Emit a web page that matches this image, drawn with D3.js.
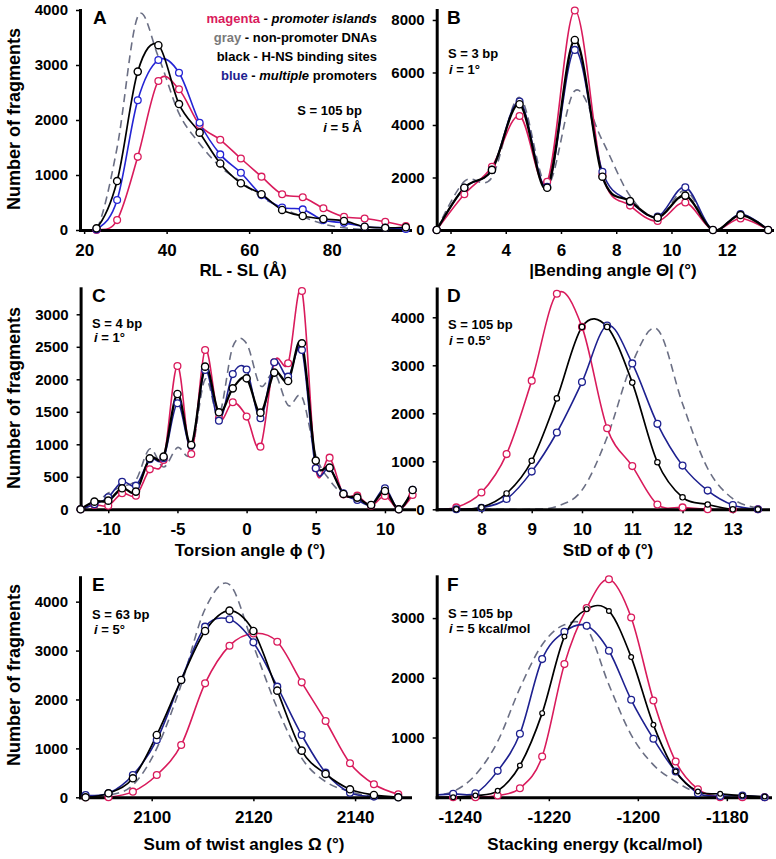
<!DOCTYPE html>
<html>
<head>
<meta charset="utf-8">
<script src="https://cdn.jsdelivr.net/npm/d3@7"></script>
<style>
  body { margin: 0; background: #fff; }
  svg { display: block; }
  text { font-family: Arial, "Liberation Sans", sans-serif; font-weight: bold; fill: #000; }
</style>
</head>
<body>
<svg id="fig" width="776" height="859"></svg>
<script>
// ---- data ----
// A : RL - SL
var aX = [18, 23, 28, 33, 38, 43, 48, 53, 58, 63, 68, 73, 78, 83, 88, 93, 98];
var aMagenta = [0, 0, 180, 1330, 2710, 2560, 1910, 1640, 1300, 970, 650, 595, 395, 240, 210, 150, 70];
var aGray    = [0, 0, 1500, 3880, 3150, 2120, 1570, 1150, 880, 600, 400, 240, 110, 40, 10, 0, 0];
var aBlack   = [0, 30, 890, 2880, 3360, 2290, 1770, 1210, 850, 650, 365, 255, 200, 165, 60, 40, 50];
var aBlue    = [0, 10, 545, 2360, 3090, 2860, 1950, 1375, 1040, 635, 410, 375, 180, 130, 60, 40, 20];
var aXTicks = [20, 40, 60, 80];
var aYTicks = [0, 1000, 2000, 3000, 4000];

// B : bending angle
var bX = [1.5, 2.5, 3.5, 4.5, 5.5, 6.5, 7.5, 8.5, 9.5, 10.5, 11.5, 12.5, 13.5];
var bMagenta = [0, 1360, 2410, 4340, 1840, 8360, 2100, 930, 340, 1050, 0, 440, 0];
var bGray    = [0, 1850, 2000, 5050, 1700, 5300, 3400, 1300, 450, 1500, 0, 600, 0];
var bBlack   = [0, 1610, 2290, 4790, 1610, 7240, 2030, 1100, 470, 1310, 0, 570, 0];
var bBlue    = [0, 1610, 2290, 4890, 1650, 6860, 2220, 1080, 510, 1630, 0, 610, 0];
var bXTicks = [2, 4, 6, 8, 10, 12];
var bYTicks = [0, 2000, 4000, 6000, 8000];

// C : torsion angle
var cX = [-12, -11, -10, -9, -8, -7, -6, -5, -4, -3, -2, -1, 0, 1, 2, 3, 4, 5, 6, 7, 8, 9, 10, 11, 12];
var cMagenta = [0, 67, 56, 246, 210, 615, 760, 2205, 851, 2451, 1400, 1646, 1426, 964, 2262, 2246, 3359, 631, 795, 230, 210, 56, 205, 0, 220];
var cGray    = [0, 80, 250, 350, 450, 930, 650, 950, 870, 2000, 1450, 2500, 2550, 1900, 2100, 1600, 1730, 830, 450, 230, 150, 80, 250, 0, 250];
var cBlack   = [0, 118, 133, 323, 272, 785, 810, 1774, 990, 2195, 1492, 1861, 2015, 1487, 2103, 1974, 2554, 749, 641, 236, 180, 67, 282, 0, 297];
var cBlue    = [0, 77, 185, 425, 364, 769, 785, 1631, 980, 2144, 1364, 2080, 2150, 1400, 2262, 2041, 2451, 631, 631, 246, 143, 67, 323, 0, 300];
var cXTicks = [-10, -5, 0, 5, 10];
var cYTicks = [0, 500, 1000, 1500, 2000, 2500, 3000];

// D : StD of torsion
var dX = [7, 7.5, 8, 8.5, 9, 9.5, 10, 10.5, 11, 11.5, 12, 12.5, 13, 13.5];
var dMagenta = [0, 40, 350, 1150, 2680, 4490, 3800, 1690, 900, 100, 40, 0, 0, 0];
var dGray    = [0, 0, 0, 0, 0, 60, 400, 1500, 3050, 3750, 2200, 850, 220, 20];
var dBlack   = [0, 0, 40, 330, 1010, 2310, 3800, 3800, 2640, 980, 250, 100, 0, 0];
var dBlue    = [0, 0, 30, 215, 785, 1600, 2650, 3830, 3040, 1780, 910, 390, 90, 0];
var dXTicks = [8, 9, 10, 11, 12, 13];
var dYTicks = [0, 1000, 2000, 3000, 4000];

// E : sum of twist angles
var eX = [2087, 2091.5, 2096.3, 2101, 2105.8, 2110.5, 2115.3, 2120, 2124.7, 2129.5, 2134.2, 2139, 2143.7, 2148.5];
var eMagenta = [0, 0, 116, 456, 1070, 2330, 3100, 3350, 3180, 2350, 1560, 695, 266, 60];
var eGray    = [0, 40, 250, 1000, 2300, 3850, 4350, 3100, 1820, 800, 320, 116, 14, 0];
var eBlack   = [0, 82, 388, 1274, 2399, 3400, 3816, 3400, 2180, 954, 477, 164, 48, 0];
var eBlue    = [48, 82, 456, 1172, 2399, 3489, 3639, 3168, 2262, 1274, 504, 95, 14, 0];
var eXTicks = [2100, 2120, 2140];
var eYTicks = [0, 1000, 2000, 3000, 4000];

// F : stacking energy
var fX = [-1246.5, -1241.5, -1236.5, -1231.5, -1226.5, -1221.5, -1216.5, -1211.5, -1206.5, -1201.5, -1196.5, -1191.5, -1186.5, -1181.5, -1176.5, -1171.5];
var fMagenta = [0, 0, 0, 28, 151, 682, 2229, 3168, 3650, 3011, 1620, 598, 134, 0, 0, 0];
var fGray    = [20, 95, 374, 933, 1827, 2553, 2888, 2832, 1883, 1045, 542, 263, 67, 0, 0, 0];
var fBlack   = [0, 0, 28, 106, 531, 1408, 2690, 3150, 3120, 2347, 1212, 430, 95, 56, 28, 11];
var fBlue    = [30, 56, 67, 441, 1062, 2313, 2770, 2872, 2453, 1631, 978, 430, 67, 20, 28, 0];
var fXTicks = [-1240, -1220, -1200, -1180];
var fYTicks = [1000, 2000, 3000];

var magenta = "#d91b5c", gray = "#6b6f84", black = "#000";
var blueA = "#2424d4", blueDark = "#1e2190";

var svg = d3.select("#fig");
var plain = function(d) { return String(d); };   // 4000, -1240 : no commas, plain hyphen

function drawPanel(p) {
  var x = d3.scaleLinear().domain(p.xDomain).range(p.xRange);
  var y = d3.scaleLinear().domain(p.yDomain).range(p.yRange);
  var g = svg.append("g");

  var clipId = "clip" + p.letter;
  g.append("clipPath").attr("id", clipId).append("rect")
    .attr("x", p.xRange[0]).attr("y", p.yRange[1] - 20)
    .attr("width", p.xRange[1] - p.xRange[0])
    .attr("height", p.yRange[0] - p.yRange[1] + 20);

  var line = d3.line()
    .x(function(d) { return x(d[0]); })
    .y(function(d) { return y(d[1]); })
    .curve(d3.curveCardinal.tension(0));

  var plot = g.append("g").attr("clip-path", "url(#" + clipId + ")");
  p.series.forEach(function(s) {
    var pts = p.xs.map(function(v, i) { return [v, s.values[i]]; });
    plot.append("path").datum(pts)
      .attr("d", line)
      .attr("fill", "none")
      .attr("stroke", s.color)
      .attr("stroke-width", s.width)
      .attr("stroke-dasharray", s.dash || null);
  });

  // axes
  var xa = g.append("g").attr("transform", "translate(0," + p.yRange[0] + ")")
    .call(d3.axisBottom(x).tickValues(p.xTicks).tickFormat(plain).tickSize(4).tickSizeOuter(0).tickPadding(10));
  var ya = g.append("g").attr("transform", "translate(" + p.xRange[0] + ",0)")
    .call(d3.axisLeft(y).tickValues(p.yTicks).tickFormat(plain).tickSize(4).tickSizeOuter(0).tickPadding(8));
  [xa, ya].forEach(function(a) {
    a.select(".domain").attr("stroke", "#000").attr("stroke-width", 3).attr("stroke-linecap", "square");
    a.selectAll(".tick line").attr("stroke", "#000").attr("stroke-width", 1.5);
    a.selectAll("text").attr("fill", "#000").style("font-family", "Arial, 'Liberation Sans', sans-serif").style("font-weight", "bold");
  });
  xa.selectAll("text").style("font-size", "17px");
  ya.selectAll("text").style("font-size", "15px");

  // markers on top of the axes
  var x0 = p.xDomain[0], x1 = p.xDomain[1];
  p.series.forEach(function(s) {
    if (!s.r) return;
    var pts = p.xs.map(function(v, i) { return [v, s.values[i]]; })
      .filter(function(d) { return d[0] >= x0 && d[0] <= x1; });
    g.selectAll(null).data(pts).enter().append("circle")
      .attr("cx", function(d) { return x(d[0]); })
      .attr("cy", function(d) { return y(d[1]); })
      .attr("r", s.r)
      .attr("fill", "#fff")
      .attr("stroke", s.color)
      .attr("stroke-width", s.mw || 1.3);
  });

  // texts
  g.append("text").attr("x", p.letterPos[0]).attr("y", p.letterPos[1])
    .style("font-size", "19px").text(p.letter);
  var sT = g.append("text").attr("x", p.sPos[0]).attr("y", p.sPos[1])
    .attr("text-anchor", p.sAnchor || "start").style("font-size", "13px");
  sT.text(p.sText);
  var iT = g.append("text").attr("x", p.iPos[0]).attr("y", p.iPos[1])
    .attr("text-anchor", p.sAnchor || "start").style("font-size", "13px");
  iT.append("tspan").style("font-style", "italic").text("i");
  iT.append("tspan").text(" = " + p.iText);

  g.append("text").attr("x", p.titlePos[0]).attr("y", p.titlePos[1])
    .attr("text-anchor", "middle").style("font-size", "17px").text(p.title);

  if (p.yTitle) {
    g.append("text")
      .attr("transform", "translate(20," + p.yTitle + ") rotate(-90)")
      .attr("text-anchor", "middle").style("font-size", "18px")
      .text("Number of fragments");
  }
}

function series(m, gr, bk, bl, blueCol, opts) {
  opts = opts || {};
  return [
    { values: gr, color: gray, width: 1.6, dash: "8,5" },
    { values: m, color: magenta, width: 1.6, r: 3.4 },
    { values: bl, color: blueCol, width: 1.6, r: 3.4 },
    { values: bk, color: black, width: opts.bw || 1.7, r: opts.br || 3.6, mw: opts.bmw || 1.4 }
  ];
}

drawPanel({
  letter: "A", xs: aX, series: series(aMagenta, aGray, aBlack, aBlue, blueA),
  xDomain: [19, 99], xRange: [80, 410], yDomain: [0, 4000], yRange: [230, 10],
  xTicks: aXTicks, yTicks: aYTicks, letterPos: [93, 24],
  sText: "S = 105 bp", sPos: [362, 115], iText: "5 \u00C5", iPos: [362, 132], sAnchor: "end",
  title: "RL - SL (\u00C5)", titlePos: [243, 276], yTitle: 119
});
drawPanel({
  letter: "B", xs: bX, series: series(bMagenta, bGray, bBlack, bBlue, blueDark, { bw: 2.3 }),
  xDomain: [1.5, 13.64], xRange: [436.7, 772], yDomain: [0, 8380], yRange: [230, 10],
  xTicks: bXTicks, yTicks: bYTicks, letterPos: [447, 24],
  sText: "S = 3 bp", sPos: [448, 58], iText: "1\u00B0", iPos: [449, 74],
  title: "|Bending angle \u0398| (\u00B0)", titlePos: [613, 276]
});
drawPanel({
  letter: "C", xs: cX, series: series(cMagenta, cGray, cBlack, cBlue, blueDark, { bw: 2.3 }),
  xDomain: [-12, 12.1], xRange: [80.6, 414], yDomain: [0, 3400], yRange: [509.3, 288.3],
  xTicks: cXTicks, yTicks: cYTicks, letterPos: [92, 302],
  sText: "S = 4 bp", sPos: [92, 328], iText: "1\u00B0", iPos: [94, 342],
  title: "Torsion angle \u03D5 (\u00B0)", titlePos: [250, 556], yTitle: 398
});
drawPanel({
  letter: "D", xs: dX, series: series(dMagenta, dGray, dBlack, dBlue, blueDark, { br: 2.7, bmw: 1.2 }),
  xDomain: [7.11, 13.7], xRange: [436.7, 768], yDomain: [0, 4600], yRange: [509.3, 288.5],
  xTicks: dXTicks, yTicks: dYTicks, letterPos: [447, 302],
  sText: "S = 105 bp", sPos: [448, 329], iText: "0.5\u00B0", iPos: [449, 345],
  title: "StD of \u03D5 (\u00B0)", titlePos: [608, 556]
});
drawPanel({
  letter: "E", xs: eX, series: series(eMagenta, eGray, eBlack, eBlue, blueDark),
  xDomain: [2085.9, 2150.8], xRange: [80, 410], yDomain: [0, 4500], yRange: [797.3, 577.2],
  xTicks: eXTicks, yTicks: eYTicks, letterPos: [92, 591],
  sText: "S = 63 bp", sPos: [92, 619], iText: "5\u00B0", iPos: [94, 634],
  title: "Sum of twist angles \u03A9 (\u00B0)", titlePos: [244, 850], yTitle: 675
});
drawPanel({
  letter: "F", xs: fX, series: series(fMagenta, fGray, fBlack, fBlue, blueDark, { br: 2.4, bmw: 1.2 }),
  xDomain: [-1245.2, -1170.3], xRange: [436.7, 770], yDomain: [0, 3700], yRange: [797.2, 576.3],
  xTicks: fXTicks, yTicks: fYTicks, letterPos: [447, 591],
  sText: "S = 105 bp", sPos: [448, 618], iText: "5 kcal/mol", iPos: [449, 633],
  title: "Stacking energy (kcal/mol)", titlePos: [595, 850]
});

// legend of panel A
var leg = svg.append("g").style("font-size", "13px");
var legRows = [
  { key: "magenta", col: magenta, parts: [[" - ", false], ["promoter islands", true]], y: 23 },
  { key: "gray", col: "#7a7a7a", parts: [[" - non-promoter DNAs", false]], y: 42 },
  { key: "black", col: "#000", parts: [[" - H-NS binding sites", false]], y: 61 },
  { key: "blue", col: blueDark, parts: [[" - ", false], ["multiple", true], [" promoters", false]], y: 80 }
];
legRows.forEach(function(r) {
  var t = leg.append("text").attr("x", 377).attr("y", r.y).attr("text-anchor", "end");
  t.append("tspan").attr("fill", r.col).style("fill", r.col).text(r.key);
  r.parts.forEach(function(pt) {
    t.append("tspan").style("font-style", pt[1] ? "italic" : "normal").text(pt[0]);
  });
});
</script>
</body>
</html>
